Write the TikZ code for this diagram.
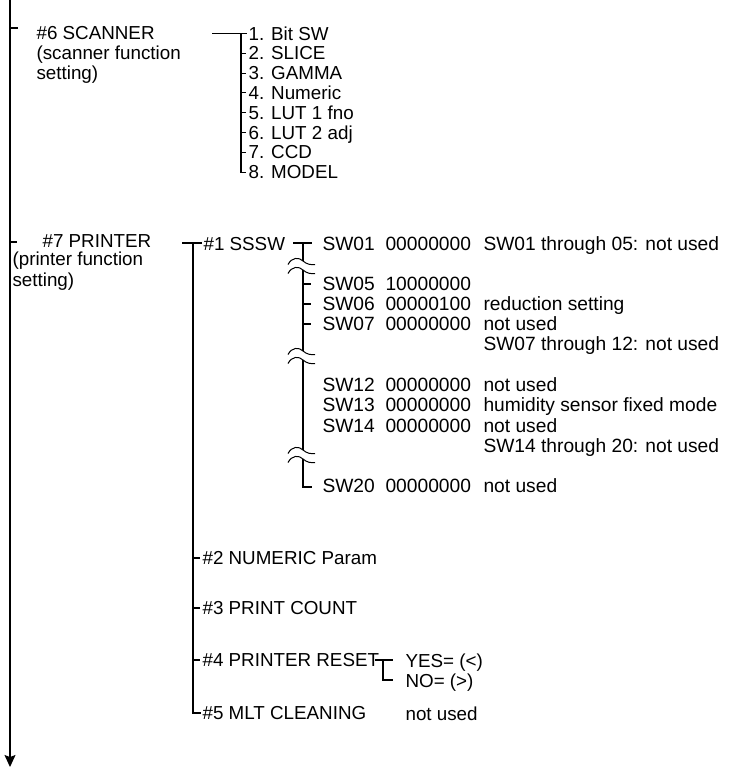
\documentclass[tikz,border=0pt]{standalone}
\usepackage{fontspec}
\setmainfont{Liberation Sans}
\usetikzlibrary{arrows.meta}
\newcommand{\tildebreak}[1]{%
  \draw[brk] (288,#1+6.5) .. controls (292,#1-1) and (299,#1-1) .. (303,#1+3)
     .. controls (307,#1+6.5) and (311,#1+7) .. (315,#1+6.5);
  \draw[brk] (288,#1+15.5) .. controls (292,#1+8) and (299,#1+8) .. (303,#1+12)
     .. controls (307,#1+15.5) and (311,#1+16) .. (315,#1+15.5);}
\begin{document}
\begin{tikzpicture}[x=1pt,y=-1pt,line width=1.1pt,
  lbl/.style={anchor=base west,inner sep=0pt,font=\fontsize{18.8}{20}\selectfont},
  swl/.style={anchor=base west,inner sep=0pt,font=\fontsize{19.2}{20}\selectfont},
  brk/.style={line width=1pt}]
\useasboundingbox (0,0) rectangle (731,768);
% main flow line
\coordinate (top) at (10,0);
\coordinate (bot) at (10,767);
\draw[-{Stealth[length=12pt,width=11pt,inset=2pt]}] (top) -- (bot);

% ---------- #6 SCANNER ----------
\coordinate (t6) at (10,28);
\coordinate (t6e) at (18,28);
\draw (t6) -- (t6e);
\node[lbl] (s6a) at (36,39.6) {\#6 SCANNER};
\node[lbl] (s6b) at (36,59.6) {(scanner function};
\node[lbl] (s6c) at (36,79.1) {setting)};

\foreach \k/\t in {1/1. Bit SW,2/2. SLICE,3/3. GAMMA,4/4. Numeric,5/5. LUT 1 fno,6/6. LUT 2 adj,7/7. CCD,8/8. MODEL}{
  \node[lbl] (i\k) at (248,{33.5+(\k-1)*19.8+6.6}) {\t};
  \coordinate (ij\k) at (241,{33.5+(\k-1)*19.8});
  \coordinate (ie\k) at (246,{33.5+(\k-1)*19.8});
}
\coordinate (sa) at (212,33.5);
\coordinate (sb) at (247,33.5);
\draw (sa) -- (sb);
\draw (ij1) -- (ij8) -- (ie8);
\foreach \k in {2,...,7}{\draw (ij\k) -- (ie\k);}

% ---------- #7 PRINTER ----------
\coordinate (t7) at (10,242);
\coordinate (t7e) at (17,242);
\draw (t7) -- (t7e);
\node[lbl] (p7a) at (42,247.8) {\#7 PRINTER};
\node[lbl] (p7b) at (12,265.2) {(printer function};
\node[lbl] (p7c) at (12,286) {setting)};

% first level tree
\coordinate (pa) at (182,243);
\coordinate (pj) at (193,243);
\coordinate (pb) at (202,243);
\draw (pa) -- (pb);
\node[lbl] (n1) at (203,250.6) {\#1 SSSW};
\node[lbl] (n2) at (202,564.6) {\#2 NUMERIC Param};
\node[lbl] (n3) at (202,614.6) {\#3 PRINT COUNT};
\node[lbl] (n4) at (202,666.6) {\#4 PRINTER RESET};
\node[lbl] (n5) at (202,719.6) {\#5 MLT CLEANING};
\coordinate (pj2) at (193,558);  \coordinate (pe2) at (200,558);
\coordinate (pj3) at (193,608);  \coordinate (pe3) at (200,608);
\coordinate (pj4) at (193,660);  \coordinate (pe4) at (200,660);
\coordinate (pj5) at (193,713);  \coordinate (pe5) at (201,713);
\draw (pj) -- (pj5) -- (pe5);
\draw (pj2) -- (pe2);
\draw (pj3) -- (pe3);
\draw (pj4) -- (pe4);

% #1 SSSW sub tree
\coordinate (wa) at (293,243);
\coordinate (wj) at (303,243);
\coordinate (wb) at (312,243);
\draw (wa) -- (wb);
\draw (wj) -- (303,261);
\tildebreak{258}
\draw (303,270) -- (303,351);
\tildebreak{348}
\draw (303,360) -- (303,450);
\tildebreak{447}
\coordinate (wz) at (303,487);
\coordinate (wze) at (312,487);
\draw (303,459) -- (wz) -- (wze);
\foreach \y in {284,304,324}{\draw (303,\y) -- (311,\y);}

\foreach \n/\y/\a/\b/\c in {
  r1/244/SW01/00000000/SW01 through 05: not used,
  r5/284/SW05/10000000/,
  r6/304/SW06/00000100/reduction setting,
  r7/324/SW07/00000000/not used,
  r12/384.5/SW12/00000000/not used,
  r13/405/SW13/00000000/humidity sensor fixed mode,
  r14/425.5/SW14/00000000/not used,
  r20/486/SW20/00000000/not used}{
  \node[swl] (\n a) at (322,\y+6.6) {\a};
  \node[swl] (\n b) at (385,\y+6.6) {\b};
  \node[swl] (\n c) at (483,\y+6.6) {\c};
}
\node[swl] (t12) at (483,350.6) {SW07 through 12: not used};
\node[swl] (t20) at (483,452.6) {SW14 through 20: not used};

% #4 PRINTER RESET sub tree
\coordinate (ra) at (375,660);
\coordinate (rj) at (383,660);
\coordinate (rb) at (393,660);
\coordinate (rz) at (383,680);
\coordinate (rze) at (393,680);
\draw (ra) -- (rb);
\draw (rj) -- (rz) -- (rze);
\node[lbl] (yes) at (405,667.6) {YES= (<)};
\node[lbl] (no) at (405,687.6) {NO= (>)};
\node[lbl] (nu) at (405,720.6) {not used};
\end{tikzpicture}
\end{document}
